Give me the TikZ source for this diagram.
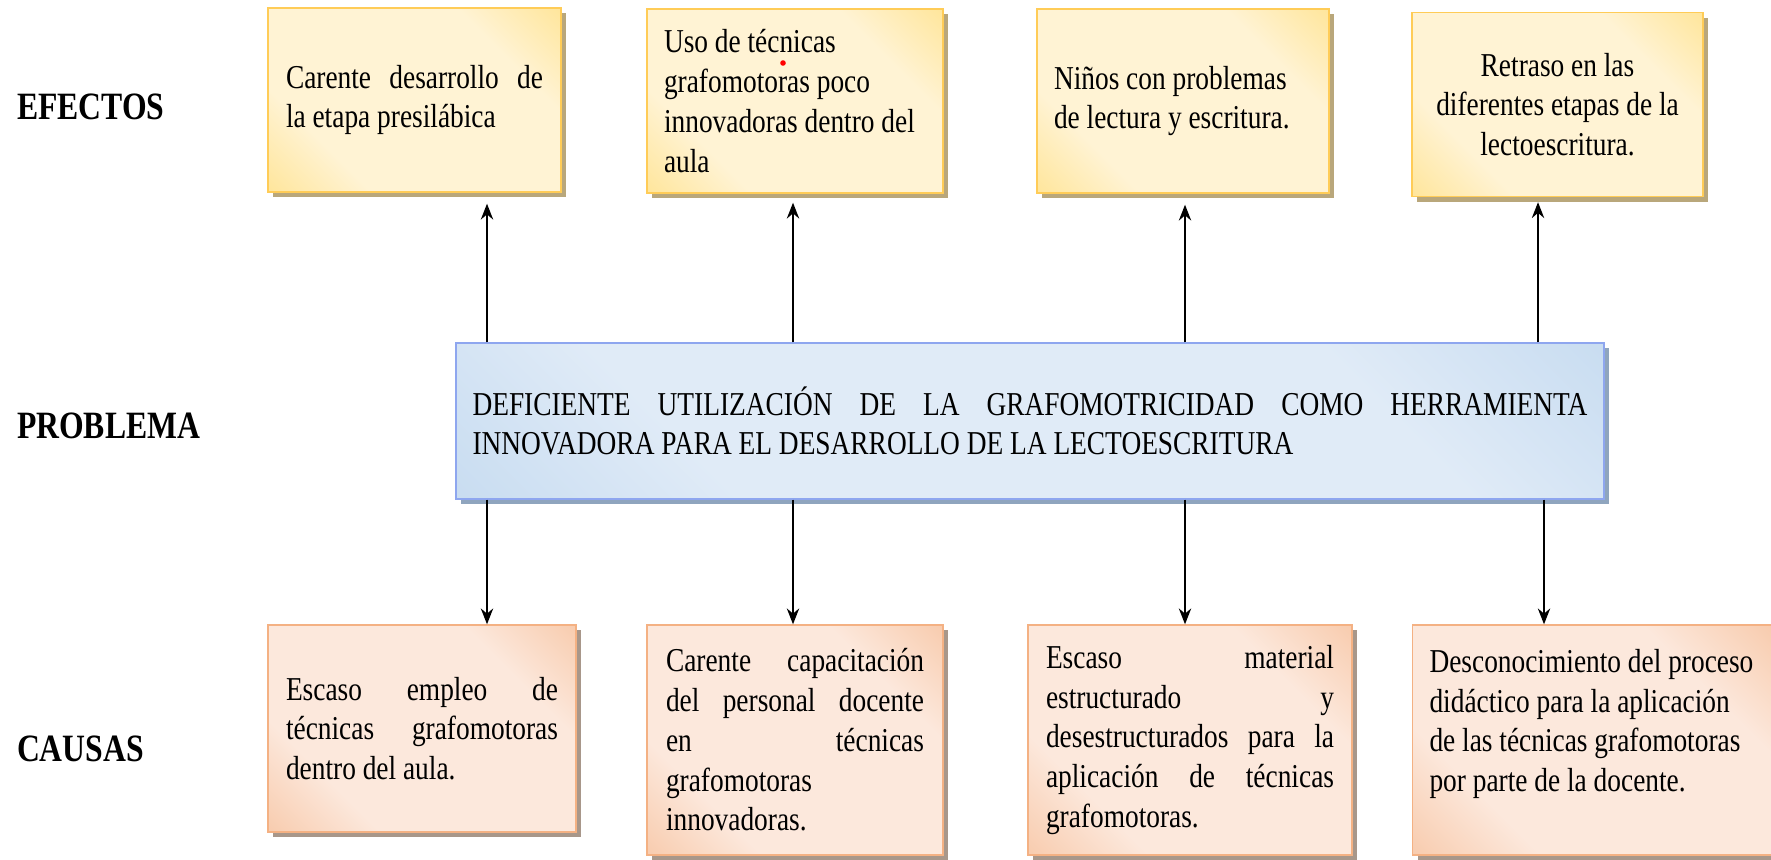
\documentclass[tikz,border=0pt]{standalone}
\usepackage{fontspec}
\setmainfont{Liberation Serif}[FakeStretch=0.82]
\usetikzlibrary{shadows,arrows.meta}
\definecolor{efgold}{HTML}{FFD966}
\definecolor{eflight}{HTML}{FFF3D4}
\definecolor{efshadow}{HTML}{B9A77B}
\definecolor{cadark}{HTML}{F4B183}
\definecolor{calight}{HTML}{FCE8DC}
\definecolor{cashadow}{HTML}{A8978A}
\definecolor{prdark}{HTML}{B2CFEB}
\definecolor{prlight}{HTML}{E0EBF7}
\definecolor{prshadow}{HTML}{8FA5BE}
\pgfdeclarehorizontalshading{efshade}{100bp}{color(0bp)=(efgold); color(30bp)=(eflight); color(70bp)=(eflight); color(100bp)=(efgold)}
\pgfdeclarehorizontalshading{cashade}{100bp}{color(0bp)=(cadark); color(30bp)=(calight); color(70bp)=(calight); color(100bp)=(cadark)}
\pgfdeclarehorizontalshading{prshade}{100bp}{color(0bp)=(prdark); color(30bp)=(prlight); color(70bp)=(prlight); color(100bp)=(prdark)}
\hyphenpenalty=10000
\tolerance=10000

\begin{document}
\begin{tikzpicture}[x=0.1mm, y=-0.1mm, semithick, >={Stealth[length=4.5pt,width=3.5pt]},
    txt/.style={font=\fontsize{9.5}{11.3}\selectfont, inner xsep=1.8mm, inner ysep=0mm, thin},
    lbl/.style={font=\bfseries\fontsize{11}{13}\selectfont, inner sep=0pt, anchor=west},
    efecto/.style={txt, draw=efgold!85!orange, shading=efshade, shading angle=45, minimum height=18.4mm,
        drop shadow={shadow xshift=0.5mm, shadow yshift=-0.5mm, fill=efshadow, opacity=1}},
    causa/.style={txt, draw=cadark, shading=cashade, shading angle=45, minimum height=23mm,
        drop shadow={shadow xshift=0.5mm, shadow yshift=-0.5mm, fill=cashadow, opacity=1}},
    problema/.style={txt, draw=prdark!80!blue, shading=prshade, shading angle=45, minimum height=15.6mm,
        drop shadow={shadow xshift=0.5mm, shadow yshift=-0.5mm, fill=prshadow, opacity=1}}]
    \useasboundingbox (0,0) rectangle (1771,859);

    \node[lbl] (efectos) at (16,107) {EFECTOS};
    \node[lbl] (problem) at (16,426) {PROBLEMA};
    \node[lbl] (causas) at (16,749) {CAUSAS};

    \node[efecto, text width=25.7mm, align=justify] (ef1) at (414.5,100) {Carente desarrollo de \linebreak la etapa presilábica};
    \node[efecto, text width=26.2mm, inner xsep=1.7mm, align=flush left] (ef2) at (795,101) {Uso de técnicas\\ grafomotoras poco\\ innovadoras dentro del\\ aula};
    \node[efecto, text width=25.8mm, inner xsep=1.7mm, align=flush left] (ef3) at (1183,101) {Niños con problemas\\ de lectura y escritura.};
    \node[efecto, text width=25.7mm, inner xsep=1.7mm, align=flush center] (ef4) at (1557.5,104.5) {Retraso en las\\ diferentes etapas de la\\ lectoescritura.};
    \fill[red] (783,63) circle (0.28mm);

    \node[problema, text width=111.5mm, inner xsep=1.65mm, align=justify] (prob) at (1030,421)
        {DEFICIENTE UTILIZACIÓN DE LA GRAFOMOTRICIDAD COMO HERRAMIENTA \linebreak INNOVADORA PARA EL DESARROLLO DE LA LECTOESCRITURA};

    \node[causa, text width=27.2mm, minimum height=20.7mm, align=justify] (ca1) at (422,728.5) {Escaso empleo de \linebreak técnicas grafomotoras \linebreak dentro del aula.};
    \node[causa, text width=25.8mm, inner xsep=1.9mm, align=justify] (ca2) at (795,740) {Carente capacitación \linebreak del personal docente \linebreak en técnicas \linebreak grafomotoras\\ innovadoras.};
    \node[causa, text width=28.8mm, align=justify] (ca3) at (1190,740) {Escaso material \linebreak estructurado y \linebreak desestructurados para la \linebreak aplicación de técnicas \linebreak grafomotoras.};
    \node[causa, text width=32.5mm, inner xsep=1.7mm, align=flush left] (ca4) at (1592,740) {Desconocimiento del proceso\\ didáctico para la aplicación\\ de las técnicas grafomotoras\\ por parte de la docente.\par\kern3.2mm};

    \coordinate (a1) at (487,0);
    \coordinate (a2) at (793,0);
    \coordinate (a3) at (1185,0);
    \coordinate (a4) at (1538,0);
    \coordinate (b4) at (1544,0);

    \draw[->] (prob.north -| a1) -- ([yshift=-1.1mm]ef1.south -| a1);
    \draw[->] (prob.north -| a2) -- ([yshift=-0.9mm]ef2.south -| a2);
    \draw[->] (prob.north -| a3) -- ([yshift=-1.1mm]ef3.south -| a3);
    \draw[->] (prob.north -| a4) -- ([yshift=-0.5mm]ef4.south -| a4);
    \draw[->] (prob.south -| a1) -- (ca1.north -| a1);
    \draw[->] (prob.south -| a2) -- (ca2.north -| a2);
    \draw[->] (prob.south -| a3) -- (ca3.north -| a3);
    \draw[->] (prob.south -| b4) -- (ca4.north -| b4);
\end{tikzpicture}
\end{document}
